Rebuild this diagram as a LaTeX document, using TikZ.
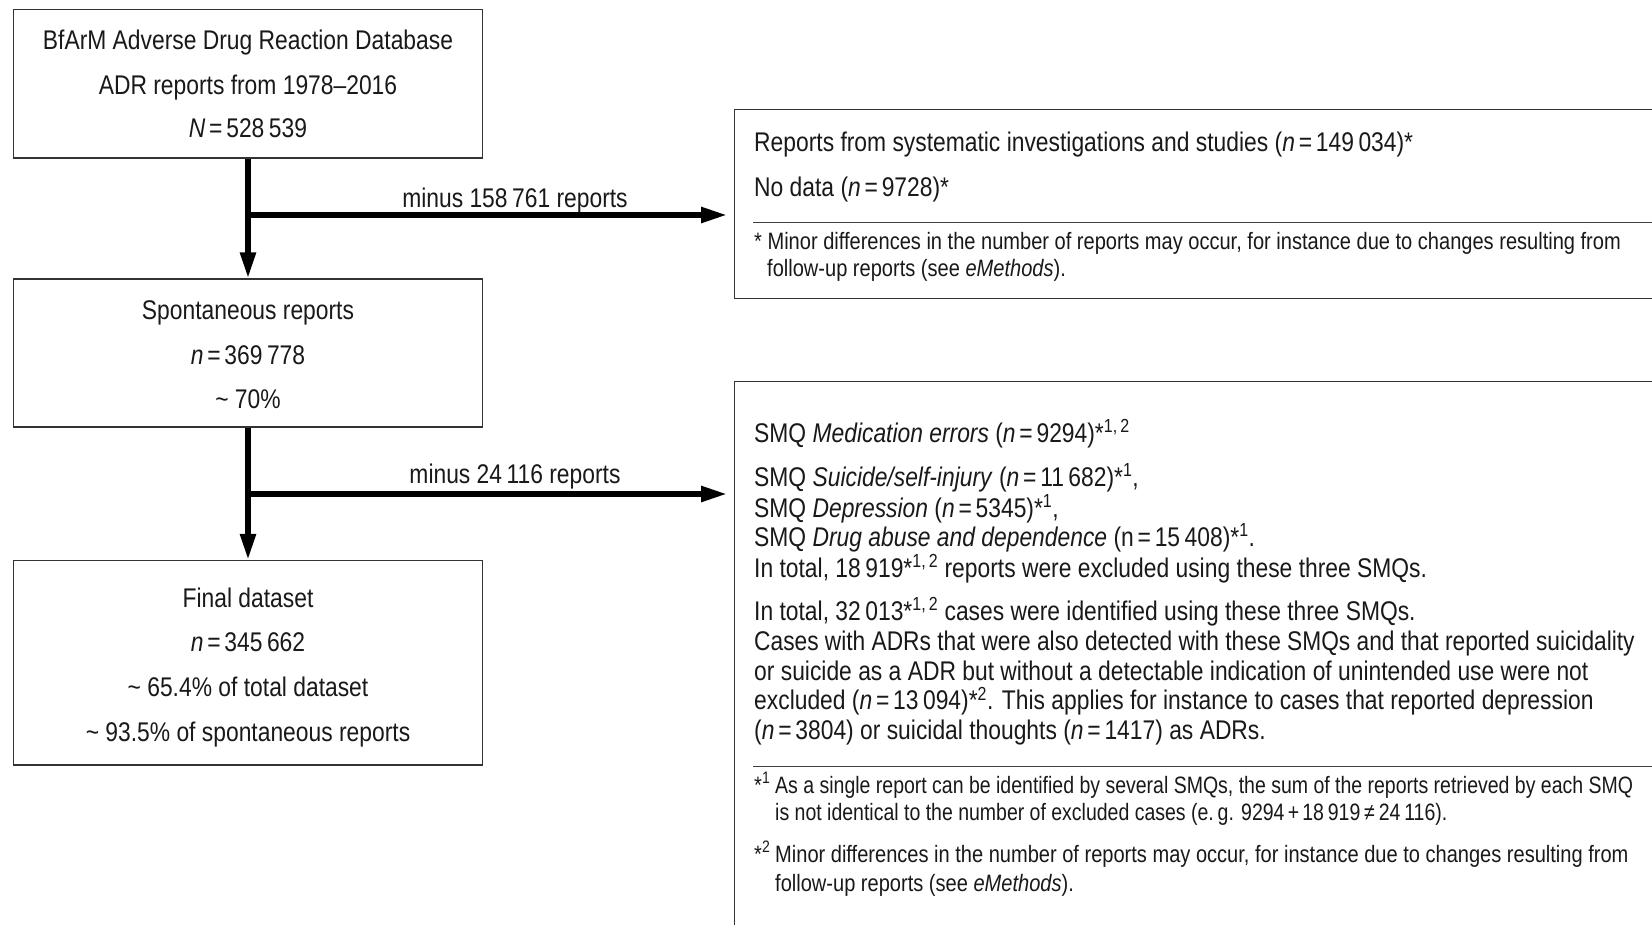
\documentclass[tikz,border=0pt]{standalone}
\usepackage{fontspec}
\usepackage{graphicx}
\setmainfont{Liberation Sans}[FakeStretch=0.846]
\usetikzlibrary{arrows.meta}
\newcommand{\myeq}{\kern.14em=\kern.14em}
\newcommand{\myplus}{\kern.14em+\kern.14em}
\begin{document}
\begin{tikzpicture}[x=1pt,y=-1pt,
  box/.style={draw=black!80, line width=1.3pt, rectangle, inner sep=0pt},
  sepline/.style={draw=black!75, line width=1pt},
  flow/.style={line width=5.5pt, -{Triangle[length=26pt,width=15pt]}},
  main/.style={font=\fontsize{27}{29.5}\selectfont, inner sep=0pt, text=black!90},
  foot/.style={font=\fontsize{23.7}{26}\selectfont, inner sep=0pt, text=black!90},
  ctext/.style={main, anchor=base},
  ltext/.style={main, anchor=base west},
  ftext/.style={foot, anchor=base west}]
\useasboundingbox (0,0) rectangle (1652,924);
\clip (0,0) rectangle (1652,924);
\fill[white] (0,0) rectangle (1652,924);

% left boxes
\node[box, minimum width=469pt, minimum height=148.5pt] (db) at (248,83.75) {};
\node[box, minimum width=469pt, minimum height=148pt] (spont) at (248,353) {};
\node[box, minimum width=469pt, minimum height=204.5pt] (final) at (248,662.75) {};

% right boxes (open to the right and bottom)
\node[box, minimum width=1000pt, minimum height=189.5pt, anchor=north west] (excl1) at (734,108.5) {};
\node[box, minimum width=1000pt, minimum height=600pt, anchor=north west] (excl2) at (734,381) {};

% connectors
\draw[flow] (db.south) -- (spont.north);
\draw[flow] (spont.south) -- (final.north);
\coordinate (j1) at (248,215);
\coordinate (e1) at (727,215);
\coordinate (j2) at (248,494);
\coordinate (e2) at (727,494);
\draw[flow] (j1) -- (e1);
\draw[flow] (j2) -- (e2);

\node[ctext] (l1) at (515,207) {minus 158\,761 reports};
\node[ctext] (l2) at (515,483) {minus 24\,116 reports};

% box texts
\node[ctext] (db1) at (248,49.3) {BfArM Adverse Drug Reaction Database};
\node[ctext] (db2) at (248,94) {ADR reports from 1978–2016};
\node[ctext] (db3) at (248,137.7) {\textit{N}\myeq 528\,539};

\node[ctext] (sp1) at (248,319.5) {Spontaneous reports};
\node[ctext] (sp2) at (248,364) {\textit{n}\myeq 369\,778};
\node[ctext] (sp3) at (248,408) {\textasciitilde\ 70\%};

\node[ctext] (fi1) at (248,607) {Final dataset};
\node[ctext] (fi2) at (248,651.5) {\textit{n}\myeq 345\,662};
\node[ctext] (fi3) at (248,696.5) {\textasciitilde\ 65.4\% of total dataset};
\node[ctext] (fi4) at (248,741) {\textasciitilde\ 93.5\% of spontaneous reports};

% right box 1
\node[ltext] (r1a) at (754,151) {Reports from systematic investigations and studies (\textit{n}\myeq 149\,034)*};
\node[ltext] (r1b) at (754,196.5) {No data (\textit{n}\myeq 9728)*};
\draw[sepline] (753,222) -- (1700,222);
\node[ftext] (r1c) at (754,249) {* Minor differences in the number of reports may occur, for instance due to changes resulting from};
\node[ftext] (r1d) at (767,276.5) {follow-up reports (see \textit{eMethods}).};

% right box 2
\node[ltext] (r2a) at (754,442) {SMQ \textit{Medication errors} (\textit{n}\myeq 9294)*\textsuperscript{1,\,2}};
\node[ltext] (r2b) at (754,486) {SMQ \textit{Suicide/self-injury} (\textit{n}\myeq 11\,682)*\textsuperscript{1},};
\node[ltext] (r2c) at (754,517) {SMQ \textit{Depression} (\textit{n}\myeq 5345)*\textsuperscript{1},};
\node[ltext] (r2d) at (754,546) {SMQ \textit{Drug abuse and dependence} (n\myeq 15\,408)*\textsuperscript{1}.};
\node[ltext] (r2e) at (754,577) {In total, 18\,919*\textsuperscript{1,\,2} reports were excluded using these three SMQs.};
\node[ltext] (r2f) at (754,620) {In total, 32\,013*\textsuperscript{1,\,2} cases were identified using these three SMQs.};
\node[ltext] (r2g) at (754,650.5) {\scalebox{0.995}[1]{Cases with ADRs that were also detected with these SMQs and that reported suicidality}};
\node[ltext] (r2h) at (754,680) {or suicide as a ADR but without a detectable indication of unintended use were not};
\node[ltext] (r2i) at (754,709.5) {excluded (\textit{n}\myeq 13\,094)*\textsuperscript{2}. This applies for instance to cases that reported depression};
\node[ltext] (r2j) at (754,739) {(\textit{n}\myeq 3804) or suicidal thoughts (\textit{n}\myeq 1417) as ADRs.};
\draw[sepline] (753,766) -- (1700,766);
\node[ftext] (f1m) at (754,793) {*\textsuperscript{1}};
\node[ftext] (f1a) at (775,793) {\scalebox{0.972}[1]{As a single report can be identified by several SMQs, the sum of the reports retrieved by each SMQ}};
\node[ftext] (f1b) at (775,820) {\scalebox{0.972}[1]{is not identical to the number of excluded cases (e.\,g. 9294\myplus 18\,919\,≠\,24\,116).}};
\node[ftext] (f2m) at (754,862) {*\textsuperscript{2}};
\node[ftext] (f2a) at (775,862) {Minor differences in the number of reports may occur, for instance due to changes resulting from};
\node[ftext] (f2b) at (775,891) {follow-up reports (see \textit{eMethods}).};
\end{tikzpicture}
\end{document}
